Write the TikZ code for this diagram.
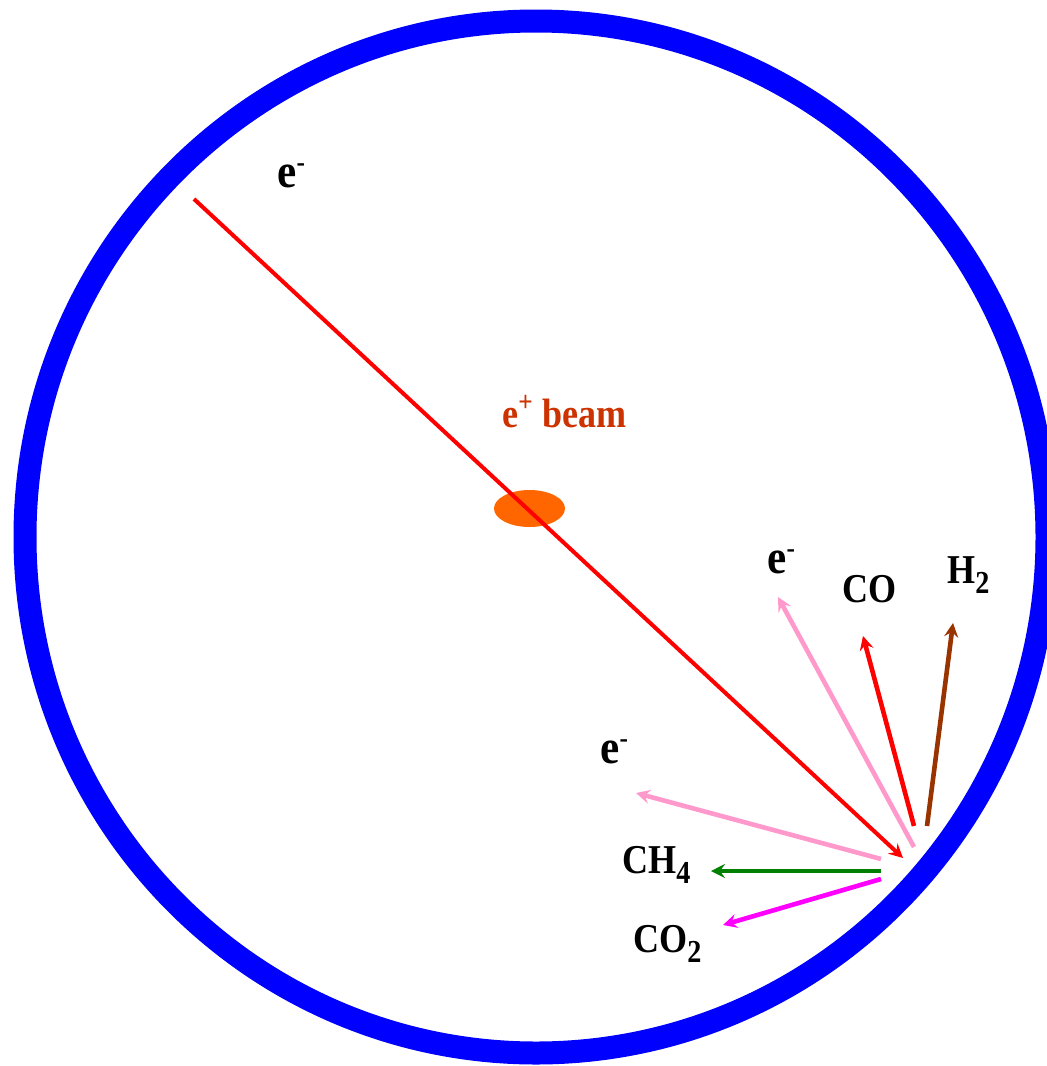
\documentclass[tikz,border=0pt]{standalone}
\usepackage{fontspec}
\setmainfont{Liberation Serif}
\usetikzlibrary{arrows.meta}
\definecolor{cblue}{HTML}{0000FF}
\definecolor{cred}{HTML}{FF0000}
\definecolor{cpink}{HTML}{FF99CC}
\definecolor{cbrown}{HTML}{993300}
\definecolor{cgreen}{HTML}{008000}
\definecolor{cmag}{HTML}{FF00FF}
\definecolor{corange}{HTML}{FF6600}
\definecolor{cbeam}{HTML}{CC3300}
\newcommand{\mysub}[1]{\raisebox{-5pt}{\fontsize{16}{16}\selectfont #1}}
\newcommand{\mysup}[1]{\raisebox{8pt}{\fontsize{14}{14}\selectfont #1}}
\begin{document}
\begin{tikzpicture}[x=0.5pt,y=-0.5pt,
  lab/.style={anchor=base west,inner sep=0pt,xscale=0.88,transform shape,font=\fontsize{20.5}{22}\selectfont\bfseries},
  elab/.style={anchor=base west,inner sep=0pt,xscale=0.9,transform shape,font=\fontsize{24}{26}\selectfont\bfseries},
  ray/.style={line width=2.3pt,-{Stealth[length=7pt,width=7pt,inset=2.5pt]}}]
\useasboundingbox (0,0) rectangle (1047,1066);
\fill[white] (0,0) rectangle (1047,1066);
% chamber wall
\draw[cblue,line width=11.5pt] (536,537) ellipse [x radius=255.5pt, y radius=258pt];
% beam spot
\fill[corange] (529.5,508.5) ellipse [x radius=17.75pt, y radius=9.25pt];
\node[lab,text=cbeam] (beam) at (502,427) {e\textsuperscript{+} beam};
% labels
\node[elab] (etop) at (277,187) {e\mysup{-}};
\node[elab] (eup) at (767,573) {e\mysup{-}};
\node[lab] (co) at (842,602) {CO};
\node[lab] (h2) at (947,583) {H\mysub{2}};
\node[elab] (elow) at (600,763) {e\mysup{-}};
\node[lab] (ch4) at (622,873) {CH\mysub{4}};
\node[lab] (co2) at (633,952) {CO\mysub{2}};
% coordinates
\coordinate (s0) at (194,199);  \coordinate (t0) at (903,858);
\coordinate (s1) at (914,847);  \coordinate (t1) at (778,597);
\coordinate (s2) at (914,826);  \coordinate (t2) at (863,636);
\coordinate (s3) at (927,826);  \coordinate (t3) at (953,623);
\coordinate (s4) at (881,859);  \coordinate (t4) at (636,793);
\coordinate (s5) at (881,871);  \coordinate (t5) at (711,871);
\coordinate (s6) at (881,879);  \coordinate (t6) at (723,925);
% rays
\draw[ray,cpink] (s1) -- (t1);
\draw[ray,cred] (s2) -- (t2);
\draw[ray,cbrown] (s3) -- (t3);
\draw[ray,cpink] (s4) -- (t4);
\draw[ray,cgreen] (s5) -- (t5);
\draw[ray,cmag] (s6) -- (t6);
\draw[ray,cred,line width=2pt] (s0) -- (t0);
\end{tikzpicture}
\end{document}
